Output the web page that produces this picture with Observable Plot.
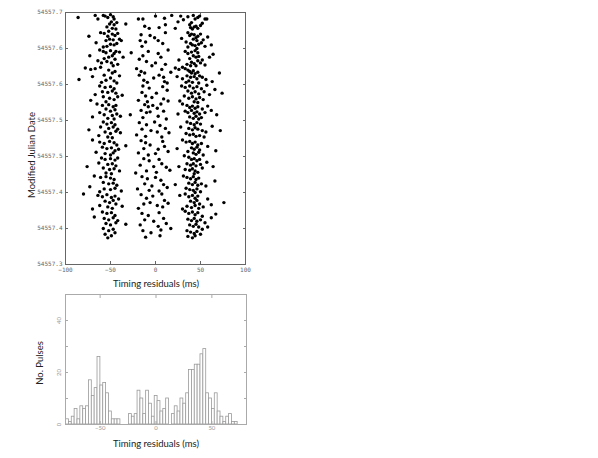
<!DOCTYPE html>
<html><head><meta charset="utf-8">
<script src="https://cdn.jsdelivr.net/npm/d3@7"></script>
<script src="https://cdn.jsdelivr.net/npm/@observablehq/plot@0.6"></script>
<style>
html,body{margin:0;padding:0;background:#fff;}
#wrap{position:relative;width:598px;height:458px;overflow:hidden;font-family:Lato,"Liberation Sans",sans-serif;}
.p{position:absolute;}
.t{position:absolute;font-size:9.5px;color:#222;white-space:nowrap;transform:translate(-50%,-50%);}
.r{transform:translate(-50%,-50%) rotate(-90deg);}
</style></head><body><div id="wrap">
<div id="topPanel" class="p" style="left:0;top:0"></div>
<div id="botPanel" class="p" style="left:0;top:280px"></div>
<div class="t r" style="left:31px;top:155px">Modified Julian Date</div>
<div class="t" style="left:156px;top:283px">Timing residuals (ms)</div>
<div class="t r" style="left:39px;top:363px">No. Pulses</div>
<div class="t" style="left:156px;top:443px">Timing residuals (ms)</div>
</div>
<script>
// Scatter: [timing residual (ms), MJD fraction after 54557]
const mjdBase = 54557;
const pulses = [
[-86,.643],[-67,.646],[-64,.641],[-58,.646],[-56,.645],[-53,.643],[-50,.647],[-47,.644],[-46,.641],[-49,.637],[-51,.634],[-46,.633],[-43,.636],[-54,.630],[-48,.628],[-44,.627],
[-33,.634],[-19,.641],[-14,.641],[-12,.631],[0,.645],[-7,.628],[10,.642],[11,.633],[4,.629],[18,.646],[25,.637],
[28,.645],[31,.640],[36,.644],[38,.633],[42,.646],[44,.641],[47,.643],[49,.645],[55,.641],[57,.641],[39,.629],[41,.627],[43,.630],[45,.631],[47,.628],[52,.635],[40,.636],[50,.632],[22,.628],
[-61,.622],[-57,.621],[-52,.624],[-48,.620],[-45,.618],[-42,.621],[-53,.617],[-55,.611],[-51,.613],[-47,.612],[-40,.613],[-38,.611],[-74,.617],[-66,.608],[-50,.606],[-46,.605],[-43,.607],[-58,.602],[-54,.603],
[-16,.619],[-6,.618],[-1,.615],[-17,.611],[-11,.609],[3,.611],[8,.607],[-15,.603],[11,.622],
[36,.622],[38,.618],[40,.620],[43,.619],[45,.615],[47,.617],[50,.620],[42,.613],[46,.611],[53,.612],[34,.609],[39,.607],[41,.605],[44,.604],[48,.606],[51,.608],[55,.603],[58,.616],[62,.605],[36,.602],[46,.600],[29,.614],
[-62,.598],[-58,.596],[-55,.594],[-50,.597],[-46,.593],[-44,.596],[-40,.595],[-48,.590],[-52,.588],[-57,.586],[-45,.585],[-36,.588],[-64,.583],[-60,.580],[-54,.582],[-49,.580],[-42,.578],[-47,.576],[-73,.590],
[-27,.594],[-14,.590],[-8,.596],[3,.593],[14,.598],[-18,.585],[-10,.582],[0,.580],[6,.588],[11,.578],[-4,.576],
[33,.596],[36,.593],[40,.595],[44,.597],[47,.594],[42,.590],[45,.588],[48,.589],[38,.586],[52,.584],[40,.581],[43,.579],[47,.583],[50,.580],[55,.577],[35,.578],[60,.588],[64,.592],[26,.584],[45,.576],[39,.576],
[-78,.573],[-72,.571],[-67,.572],[-61,.574],[-52,.570],[-48,.566],[-45,.568],[-57,.563],[-40,.562],[-85,.557],[-70,.561],[-55,.556],[-50,.559],[-46,.555],[-60,.553],[-43,.552],
[-21,.572],[-16,.568],[-12,.566],[-18,.563],[-13,.556],[-9,.553],[7,.571],[4,.563],[9,.560],[10,.554],[-2,.559],[17,.567],[13,.552],
[22,.573],[26,.571],[30,.574],[33,.572],[36,.570],[38,.568],[40,.566],[42,.569],[44,.565],[47,.567],[35,.562],[39,.560],[43,.561],[46,.558],[49,.562],[52,.560],[30,.558],[37,.555],[41,.553],[48,.552],[56,.557],[63,.554],[71,.566],[34,.553],[24,.561],
[-62,.548],[-56,.546],[-50,.547],[-46,.544],[-59,.540],[-53,.539],[-48,.541],[-44,.538],[-67,.536],[-58,.533],[-51,.531],[-46,.529],[-42,.533],[-37,.535],[-72,.528],[-55,.526],
[-14,.548],[-7,.545],[8,.547],[13,.542],[-15,.539],[-11,.534],[-4,.532],[1,.538],[-19,.528],[9,.530],[14,.527],[-9,.526],
[29,.548],[33,.546],[38,.548],[42,.545],[46,.547],[51,.544],[57,.549],[36,.541],[40,.538],[44,.540],[48,.537],[54,.540],[60,.536],[32,.534],[37,.531],[41,.533],[45,.530],[49,.532],[53,.529],[66,.543],[74,.538],[27,.527],[43,.526],[47,.525],
[-65,.523],[-59,.521],[-52,.522],[-47,.519],[-44,.521],[-55,.516],[-50,.513],[-45,.515],[-62,.511],[-57,.508],[-48,.507],[-43,.509],[-70,.505],[-53,.503],[-46,.502],[-39,.506],
[-12,.522],[-8,.519],[-3,.521],[2,.517],[6,.523],[-16,.514],[-10,.511],[-6,.512],[9,.513],[-28,.508],[-14,.504],[3,.506],[12,.502],
[30,.523],[35,.521],[38,.518],[41,.520],[44,.517],[47,.519],[52,.516],[33,.513],[36,.511],[40,.514],[43,.510],[46,.512],[49,.509],[55,.511],[38,.505],[42,.503],[45,.506],[48,.502],[51,.504],[62,.514],[68,.508],[25,.509],[58,.520],
[-58,.498],[-54,.495],[-49,.497],[-45,.494],[-61,.491],[-52,.489],[-47,.491],[-42,.488],[-74,.487],[-56,.484],[-50,.482],[-44,.485],[-39,.483],[-63,.479],[-53,.477],[-48,.476],
[-18,.497],[-10,.494],[-1,.498],[5,.493],[-15,.488],[-5,.486],[2,.484],[11,.489],[15,.483],[-21,.480],[-11,.478],[7,.477],
[35,.498],[39,.496],[43,.494],[46,.497],[50,.495],[37,.489],[41,.487],[44,.490],[47,.488],[52,.486],[34,.482],[38,.480],[42,.481],[45,.478],[49,.479],[56,.484],[63,.492],[72,.486],[28,.491],[54,.477],
[-70,.473],[-62,.470],[-57,.468],[-51,.471],[-46,.469],[-43,.466],[-59,.463],[-54,.461],[-49,.462],[-45,.458],[-41,.460],[-66,.456],[-56,.454],[-50,.452],[-47,.455],[-33,.465],
[-16,.472],[-11,.469],[-6,.466],[8,.471],[-13,.461],[3,.460],[10,.464],[-19,.455],[-8,.452],[0,.454],[14,.457],
[30,.473],[34,.470],[38,.471],[41,.468],[44,.470],[47,.466],[51,.468],[40,.462],[43,.460],[46,.463],[49,.459],[36,.457],[42,.455],[45,.453],[48,.456],[53,.452],[58,.464],[24,.461],[67,.458],[32,.451],
[-60,.448],[-56,.446],[-50,.447],[-45,.445],[-42,.448],[-63,.441],[-53,.439],[-48,.440],[-44,.437],[-76,.436],[-58,.434],[-51,.432],[-46,.433],[-40,.430],[-55,.427],[-49,.426],
[-13,.447],[-7,.444],[4,.446],[-17,.438],[-2,.436],[7,.440],[12,.435],[-10,.430],[1,.428],[16,.431],[-22,.427],
[37,.449],[40,.446],[43,.447],[46,.444],[49,.446],[35,.440],[39,.438],[42,.440],[45,.437],[50,.439],[33,.432],[38,.431],[41,.433],[44,.430],[47,.428],[52,.434],[57,.442],[64,.436],[26,.436],[43,.426],
[-68,.423],[-61,.421],[-55,.422],[-50,.420],[-46,.418],[-58,.414],[-52,.412],[-47,.413],[-43,.410],[-73,.408],[-57,.405],[-50,.404],[-45,.406],[-38,.402],[-62,.401],
[-15,.422],[-9,.419],[0,.421],[6,.417],[-12,.412],[-4,.409],[9,.411],[-20,.405],[-7,.403],[4,.402],[13,.407],
[31,.423],[35,.421],[39,.419],[42,.422],[45,.418],[48,.420],[37,.413],[41,.411],[44,.414],[47,.410],[51,.412],[34,.406],[38,.404],[42,.403],[46,.405],[50,.401],[56,.409],[66,.416],[22,.411],[44,.400],
[-80,.398],[-64,.396],[-59,.394],[-54,.397],[-49,.393],[-45,.395],[-41,.391],[-56,.388],[-51,.386],[-47,.389],[-44,.384],[-62,.382],[-53,.380],[-48,.378],[-37,.381],[-70,.377],
[-16,.397],[-10,.392],[-3,.395],[7,.398],[10,.389],[-13,.384],[-6,.386],[2,.382],[8,.380],[-19,.378],[14,.385],
[27,.396],[33,.398],[37,.394],[41,.396],[44,.392],[47,.395],[39,.388],[43,.386],[46,.389],[49,.384],[35,.381],[40,.379],[44,.382],[48,.378],[53,.380],[58,.391],[76,.386],[62,.383],[30,.377],
[-59,.373],[-54,.371],[-49,.372],[-45,.368],[-57,.364],[-52,.362],[-47,.365],[-42,.361],[-68,.366],[-55,.357],[-50,.355],[-44,.358],[-33,.356],[-58,.350],[-52,.347],[-47,.349],[-56,.342],[-49,.340],[-53,.337],[-45,.344],
[-15,.371],[-8,.368],[4,.372],[-12,.362],[-2,.360],[9,.364],[-17,.355],[3,.353],[12,.357],[-14,.347],[-5,.344],[6,.348],[17,.350],[-11,.338],[5,.340],
[33,.374],[37,.371],[41,.373],[44,.369],[47,.372],[52,.367],[36,.363],[40,.361],[43,.364],[46,.360],[50,.362],[38,.355],[42,.353],[45,.356],[48,.352],[55,.358],[62,.365],[67,.370],[35,.347],[39,.345],[43,.343],[46,.346],[50,.342],[36,.339],[41,.337],[44,.340],[52,.349],[58,.352]
];
const mjdTicks = [54557.30, 54557.35, 54557.40, 54557.45, 54557.50, 54557.55, 54557.60, 54557.65];
const mjdTickLabels = ["54557.3","54557.4","54557.4","54557.5","54557.5","54557.6","54557.6","54557.7"];
const residTicks = [-100, -50, 0, 50, 100];

// Histogram
const histStart = -80.5;
const histWidth = 2.56;
const histCounts = [2,1,3,6,2,7,6,7,17,11,14,26,15,16,12,5,2,2,2,0,0,0,
  4,3,4,13,10,4,13,8,3,11,9,5,6,10,0,
  4,7,5,10,8,12,21,21,23,23,27,29,12,10,6,12,5,3,1,3,4,1,1];
const histXTicks = [-50, 0, 50];
const histYTicks = [0, 10, 20, 30, 40, 50];
const histYLabels = [0, 20, 40];

const lab = d => mjdTickLabels[mjdTicks.findIndex(t => Math.abs(t - d) < 1e-6)];
const mono = "'DejaVu Sans Mono','Liberation Mono',monospace";

const topChart = Plot.plot({
  width: 260, height: 280,
  marginLeft: 65, marginRight: 15, marginTop: 12, marginBottom: 16,
  style: {background: "transparent", fontFamily: mono, fontSize: "6px", color: "#666", overflow: "visible"},
  x: {domain: [-100, 100]},
  y: {domain: [54557.30, 54557.65]},
  marks: [
    Plot.frame({stroke: "#666", strokeWidth: 1}),
    Plot.axisY({anchor: "left", ticks: mjdTicks, tickSize: -3, fill: "none", stroke: "#666", label: null}),
    Plot.axisY({anchor: "right", ticks: mjdTicks, tickSize: -3, fill: "none", stroke: "#666", label: null}),
    Plot.axisY({anchor: "left", ticks: mjdTicks, tickSize: 0, tickPadding: 3, tickFormat: lab, fill: "#666", label: null}),
    Plot.axisX({anchor: "bottom", ticks: residTicks, tickSize: -3, fill: "none", stroke: "#666", label: null}),
    Plot.axisX({anchor: "top", ticks: residTicks, tickSize: -3, fill: "none", stroke: "#666", label: null}),
    Plot.axisX({anchor: "bottom", ticks: residTicks, tickSize: 0, tickPadding: 3, fill: "#666", label: null}),
    Plot.dot(pulses, {x: d => d[0], y: d => mjdBase + d[1], r: 1.7, fill: "black", stroke: "none"})
  ]
});
document.getElementById("topPanel").appendChild(topChart);

const bins = histCounts.map((c, i) => ({x1: histStart + i * histWidth, x2: histStart + (i + 1) * histWidth, n: c})).filter(d => d.n > 0);
const botChart = Plot.plot({
  width: 260, height: 160,
  marginLeft: 65, marginRight: 14, marginTop: 14, marginBottom: 16,
  style: {background: "transparent", fontFamily: "Lato,'Liberation Sans',sans-serif", fontSize: "6px", color: "#999", overflow: "visible"},
  x: {domain: [-81, 81]},
  y: {domain: [0, 50]},
  marks: [
    Plot.rectY(bins, {x1: "x1", x2: "x2", y: "n", fill: "white", stroke: "#9a9a9a", strokeWidth: 0.8}),
    Plot.frame({stroke: "#aaa", strokeWidth: 1}),
    Plot.axisY({anchor: "left", ticks: histYTicks, tickSize: -3, fill: "none", stroke: "#aaa", label: null}),
    Plot.axisY({anchor: "right", ticks: histYTicks, tickSize: -3, fill: "none", stroke: "#aaa", label: null}),
    Plot.axisY({anchor: "left", ticks: histYLabels, tickSize: 0, tickPadding: 5, tickRotate: -90, fill: "#999", label: null}),
    Plot.axisX({anchor: "bottom", ticks: histXTicks, tickSize: -3, fill: "none", stroke: "#aaa", label: null}),
    Plot.axisX({anchor: "top", ticks: histXTicks, tickSize: -3, fill: "none", stroke: "#aaa", label: null}),
    Plot.axisX({anchor: "bottom", ticks: histXTicks, tickSize: 0, tickPadding: 1, fill: "#999", label: null})
  ]
});
document.getElementById("botPanel").appendChild(botChart);
</script>
</body></html>
